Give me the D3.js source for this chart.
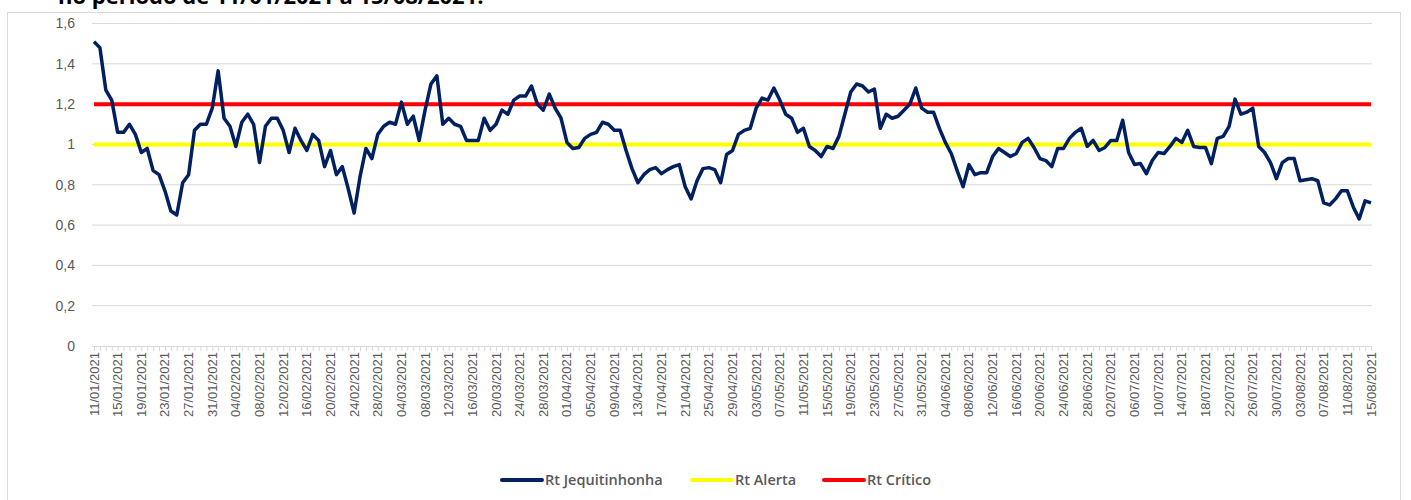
<!DOCTYPE html>
<html>
<head>
<meta charset="utf-8">
<script src="https://cdn.jsdelivr.net/npm/d3@7"></script>
<style>
  body { margin: 0; background: #fff; }
  svg { display: block; font-family: "Liberation Sans", Arial, sans-serif; }
</style>
</head>
<body>
<script>
// daily dates, 11/01/2021 .. 15/08/2021
var startDate = new Date(2021, 0, 11), endDate = new Date(2021, 7, 15);
var dates = d3.timeDay.range(startDate, d3.timeDay.offset(endDate, 1));

// Rt values
var rtJequitinhonha = [
  1.51, 1.48, 1.27, 1.22, 1.06, 1.06, 1.10, 1.05, 0.96, 0.98,
  0.87, 0.85, 0.77, 0.67, 0.65, 0.81, 0.85, 1.07, 1.10, 1.10,
  1.18, 1.365, 1.13, 1.09, 0.99, 1.11, 1.15, 1.10, 0.91, 1.09,
  1.13, 1.13, 1.07, 0.96, 1.08, 1.02, 0.97, 1.05, 1.02, 0.89,
  0.97, 0.85, 0.89, 0.78, 0.66, 0.84, 0.98, 0.93, 1.05, 1.09,
  1.11, 1.10, 1.21, 1.10, 1.14, 1.02, 1.17, 1.30, 1.34, 1.10,
  1.13, 1.10, 1.09, 1.02, 1.02, 1.02, 1.13, 1.07, 1.10, 1.17,
  1.15, 1.22, 1.24, 1.24, 1.29, 1.20, 1.17, 1.25, 1.18, 1.13,
  1.01, 0.98, 0.985, 1.03, 1.05, 1.06, 1.11, 1.10, 1.07, 1.07,
  0.97, 0.88, 0.81, 0.85, 0.875, 0.885, 0.855, 0.875, 0.89, 0.90,
  0.79, 0.73, 0.82, 0.88, 0.885, 0.875, 0.81, 0.95, 0.97, 1.05,
  1.07, 1.08, 1.18, 1.23, 1.22, 1.28, 1.22, 1.15, 1.13, 1.06,
  1.08, 0.99, 0.97, 0.94, 0.99, 0.98, 1.04, 1.15, 1.26, 1.30,
  1.29, 1.26, 1.275, 1.08, 1.15, 1.13, 1.14, 1.17, 1.20, 1.28,
  1.18, 1.16, 1.16, 1.08, 1.01, 0.955, 0.87, 0.79, 0.90, 0.85,
  0.86, 0.86, 0.94, 0.98, 0.96, 0.94, 0.955, 1.01, 1.03, 0.985,
  0.93, 0.92, 0.89, 0.98, 0.98, 1.03, 1.06, 1.08, 0.99, 1.02,
  0.97, 0.985, 1.02, 1.02, 1.12, 0.96, 0.90, 0.905, 0.855, 0.92,
  0.96, 0.955, 0.99, 1.03, 1.01, 1.07, 0.99, 0.985, 0.985, 0.905,
  1.03, 1.04, 1.09, 1.225, 1.15, 1.16, 1.18, 0.99, 0.96, 0.91,
  0.83, 0.91, 0.93, 0.93, 0.82, 0.825, 0.83, 0.82, 0.71, 0.70,
  0.73, 0.77, 0.77, 0.69, 0.63, 0.72, 0.71
];
var rtAlerta = 1.0, rtCritico = 1.2;
var yTicks = [0, 0.2, 0.4, 0.6, 0.8, 1, 1.2, 1.4, 1.6];
var seriesNames = ["Rt Jequitinhonha", "Rt Alerta", "Rt Crítico"];
var seriesColors = ["#002060", "#ffff00", "#ff0000"];

var width = 1411, height = 500;
var svg = d3.select("body").append("svg")
    .attr("width", width).attr("height", height);

// chart frame
svg.append("rect")
    .attr("x", 7.5).attr("y", 12.5)
    .attr("width", 1393).attr("height", 520)
    .attr("fill", "none").attr("stroke", "#d9d9d9");

// title, mostly cut off at the top (as in the source)
svg.append("text")
    .attr("x", 58).attr("y", 4)
    .attr("font-family", "'Open Sans', sans-serif")
    .attr("font-size", 22).attr("font-weight", "bold")
    .attr("fill", "#000")
    .text("no período de 11/01/2021 a 15/08/2021.");

var x = d3.scaleTime().domain([startDate, endDate]).range([94, 1371]);
var y = d3.scaleLinear().domain([0, 1.6]).range([346, 23.5]);

// gridlines
svg.append("g").selectAll("line")
    .data(yTicks.filter(function (d) { return d > 0; }))
    .enter().append("line")
    .attr("x1", 92).attr("x2", 1372)
    .attr("y1", function (d) { return y(d); })
    .attr("y2", function (d) { return y(d); })
    .attr("stroke", "#d9d9d9").attr("stroke-width", 1);

// y labels
svg.append("g").selectAll("text")
    .data(yTicks)
    .enter().append("text")
    .attr("x", 75)
    .attr("y", function (d) { return y(d); })
    .attr("dy", "0.35em")
    .attr("text-anchor", "end")
    .attr("font-size", 14).attr("fill", "#595959")
    .text(function (d) { return String(d).replace(".", ","); });

// x axis line + daily minor ticks
var minorAxis = d3.axisBottom(x).tickValues(dates).tickSize(5).tickFormat("");
var gMinor = svg.append("g").attr("transform", "translate(0,346)").call(minorAxis);
gMinor.select(".domain").attr("stroke", "#d9d9d9").attr("d", "M92,0.5H1372");
gMinor.selectAll(".tick line").attr("stroke", "#d9d9d9");

// date labels, every 4 days
var labelDates = dates.filter(function (d, i) { return i % 4 === 0; });
var fmt = d3.timeFormat("%d/%m/%Y");
svg.append("g").selectAll("text")
    .data(labelDates)
    .enter().append("text")
    .attr("transform", function (d) { return "translate(" + (x(d) + 4.5) + ",352) rotate(-90)"; })
    .attr("text-anchor", "end")
    .attr("font-size", 13).attr("fill", "#595959")
    .text(function (d) { return fmt(d); });

// reference lines
[[rtAlerta, seriesColors[1]], [rtCritico, seriesColors[2]]].forEach(function (r) {
  svg.append("line")
      .attr("x1", x(startDate)).attr("x2", x(endDate))
      .attr("y1", y(r[0])).attr("y2", y(r[0]))
      .attr("stroke", r[1]).attr("stroke-width", 4);
});

// Rt series
var line = d3.line()
    .x(function (d, i) { return x(dates[i]); })
    .y(function (d) { return y(d); });
svg.append("path")
    .datum(rtJequitinhonha)
    .attr("d", line)
    .attr("fill", "none")
    .attr("stroke", seriesColors[0])
    .attr("stroke-width", 3.5)
    .attr("stroke-linejoin", "round");

// legend
var legendX = [502, 692, 824];
var legend = svg.append("g").selectAll("g")
    .data(seriesNames)
    .enter().append("g")
    .attr("transform", function (d, i) { return "translate(" + legendX[i] + ",480)"; });
legend.append("line")
    .attr("x1", 0).attr("x2", 40)
    .attr("stroke", function (d, i) { return seriesColors[i]; })
    .attr("stroke-width", 4).attr("stroke-linecap", "round");
legend.append("text")
    .attr("x", 43).attr("dy", "0.35em")
    .attr("font-family", "'Open Sans', sans-serif")
    .attr("font-size", 14.5).attr("font-weight", 600).attr("fill", "#595959")
    .text(function (d) { return d; });
</script>
</body>
</html>
